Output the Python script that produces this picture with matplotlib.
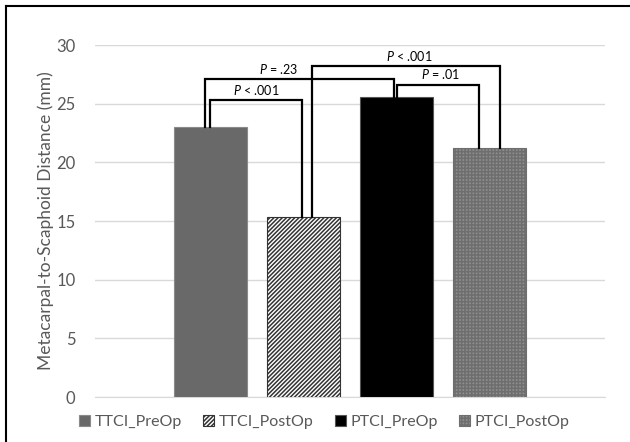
import numpy as np
import matplotlib
matplotlib.use("Agg")
import matplotlib.pyplot as plt
from matplotlib.lines import Line2D

plt.rcParams['font.family'] = ['Lato', 'DejaVu Sans']
plt.rcParams['mathtext.fontset'] = 'custom'
plt.rcParams['mathtext.it'] = 'Lato:italic'
plt.rcParams['mathtext.rm'] = 'Lato'
plt.rcParams['hatch.linewidth'] = 1.1

# data
groups = ["TTCI_PreOp", "TTCI_PostOp", "PTCI_PreOp", "PTCI_PostOp"]
values = [23.0, 15.3, 25.6, 21.2]
# (left bar, right bar, bracket height, label)
comparisons = [
    (0, 1, 25.3, r"$\it{P}$ < .001"),
    (0, 2, 27.1, r"$\it{P}$ = .23"),
    (1, 3, 28.2, r"$\it{P}$ < .001"),
    (2, 3, 26.6, r"$\it{P}$ = .01"),
]

GRAY_TXT = "#595959"
SPACING = 0.182
WIDTH = 0.143

fig = plt.figure(figsize=(6.3, 4.42), dpi=100)
ax = fig.add_axes([95 / 630, 45 / 442, 510 / 630, 352 / 442])

pos = (np.arange(len(groups)) - 1.5) * SPACING
styles = [
    dict(color="#696969", edgecolor="#8a8a8a"),
    dict(color="white", edgecolor="#333333", hatch="////////"),
    dict(color="black", edgecolor="#555555"),
    dict(color="#8e8e8e", edgecolor="#6e6e6e", hatch="+++++"),
]
for p, v, g, st in zip(pos, values, groups, styles):
    ax.bar(p, v, width=WIDTH, label=g, linewidth=0.8, zorder=3, **st)

# where each bracket's legs sit, relative to the bar centres
leg_x = {
    (0, 1): (pos[0] - 0.002, pos[1] - 0.003),
    (0, 2): (pos[0] - 0.012, pos[2] - 0.004),
    (1, 3): (pos[1] + 0.016, pos[3] + 0.022),
    (2, 3): (pos[2] + 0.002, pos[3] - 0.021),
}
label_shift = {(0, 1): 0.0, (0, 2): -0.04, (1, 3): 0.006, (2, 3): 0.006}
for a, b, h, lab in comparisons:
    x0, x1 = leg_x[(a, b)]
    ax.plot([x0, x0, x1, x1], [values[a], h, h, values[b]],
            color="black", lw=1.6, zorder=4, solid_joinstyle="miter")
    ax.text((x0 + x1) / 2 + label_shift[(a, b)], h + 0.3, lab,
            ha="center", va="bottom", fontsize=9, color="black")

ax.set_xlim(-0.5, 0.5)
ax.set_ylim(0, 30)
ax.set_yticks(np.arange(0, 31, 5))
ax.set_xticks([])
ax.tick_params(axis="y", length=0, labelsize=12, labelcolor=GRAY_TXT, pad=14)
ax.grid(axis="y", color="#d9d9d9", lw=1, zorder=0)
for s in ["top", "right", "left"]:
    ax.spines[s].set_visible(False)
ax.spines["bottom"].set_color("#d9d9d9")
ax.set_ylabel("Metacarpal-to-Scaphoid Distance (mm)", fontsize=12.5,
              color=GRAY_TXT, labelpad=2)

ax.legend(loc="upper center", bbox_to_anchor=(0.45, -0.01), ncol=4,
          frameon=False, fontsize=11.5, labelcolor=GRAY_TXT,
          handlelength=0.7, handleheight=0.7, handletextpad=0.3,
          columnspacing=1.3)

# frame lines at left and top of the figure
fig.add_artist(Line2D([6 / 630, 6 / 630], [0, 1 - 6 / 442], color="black", lw=1.5))
fig.add_artist(Line2D([6 / 630, 1], [1 - 6 / 442, 1 - 6 / 442], color="black", lw=1.5))

fig.savefig("out.png", dpi=100)
